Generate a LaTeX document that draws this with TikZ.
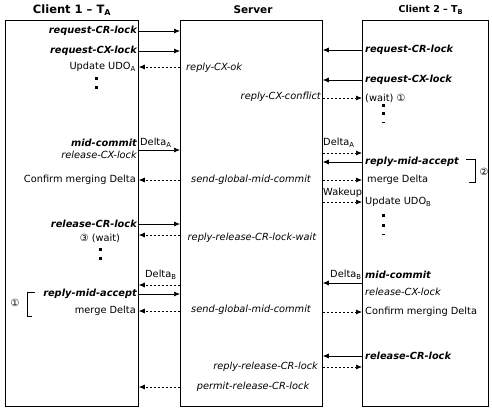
\documentclass[tikz,border=0pt]{standalone}
\usepackage{fontspec}
\setmainfont{DejaVu Sans}
\usetikzlibrary{arrows.meta}
\begin{document}
\begin{tikzpicture}[x=1pt,y=-1pt,
  box/.style={draw,line width=0.8pt,inner sep=0pt,anchor=north west},
  sarr/.style={-{Latex[length=6pt,width=5pt]},line width=0.7pt},
  darr/.style={sarr,dash pattern=on 2.5pt off 1.5pt},
  txt/.style={inner sep=0pt,font=\fontsize{9.8}{11}\selectfont},
  bi/.style={txt,font=\fontsize{9.8}{11}\selectfont\bfseries\itshape},
  it/.style={txt,font=\fontsize{9.8}{11}\selectfont\itshape},
  L/.style={anchor=east},
  R/.style={anchor=west},
  ttl/.style={inner sep=0pt,font=\fontsize{11.5}{13}\selectfont\bfseries},
  dotsq/.style={fill,inner sep=0pt,minimum width=3pt,minimum height=3pt},
  dotdash/.style={fill,inner sep=0pt,minimum width=3pt,minimum height=0.8pt},
  brk/.style={line width=0.7pt}]
\useasboundingbox (0,0) rectangle (492,408);
% boxes
\node[box,minimum width=133pt,minimum height=386pt] (c1) at (5,20) {};
\node[box,minimum width=142pt,minimum height=386pt] (sv) at (180,20) {};
\node[box,minimum width=126pt,minimum height=386pt] (c2) at (362,20) {};
% titles
\node[ttl] (t1) at (72,10) {Client 1 -- T\textsubscript{A}};
\node[ttl,font=\fontsize{10.5}{12}\selectfont\bfseries] (t2) at (253,10) {Server};
\node[ttl,font=\fontsize{9.5}{11}\selectfont\bfseries] (t3) at (431,10) {Client 2 -- T\textsubscript{B}};
% client 1 texts
\node[bi,L] (a1) at (137,31) {request-CR-lock};
\node[bi,L] (a2) at (137,51) {request-CX-lock};
\node[txt,L] (a3) at (136,67) {Update UDO\textsubscript{A}};
\node[bi,L] (a4) at (137,143) {mid-commit};
\node[it,L] (a5) at (137,155) {release-CX-lock};
\node[txt,L] (a6) at (136,180) {Confirm merging Delta};
\node[bi,L] (a7) at (137,224) {release-CR-lock};
\node[txt] (a8) at (100,238) {③ (wait)};
\node[bi,L] (a9) at (137,294) {reply-mid-accept};
\node[txt,L] (a10) at (136,311) {merge Delta};
\node[txt] (n1) at (15,303) {①};
\draw[brk] (35,292) -- (27,292) -- (27,316) -- (32,316);
\node[dotsq] (d1) at (96,78) {};
\node[dotsq] (d2) at (96,87) {};
\node[dotsq] (d3) at (100,249) {};
\node[dotsq] (d4) at (100,258) {};
% client 2 texts
\node[bi,R] (b1) at (365,50) {request-CR-lock};
\node[bi,R] (b2) at (365,80) {request-CX-lock};
\node[txt,R] (b3) at (365,98) {(wait) ①};
\node[bi,R] (b4) at (365,162) {reply-mid-accept};
\node[txt,R] (b5) at (367,180) {merge Delta};
\node[txt,R] (b6) at (365,202) {Update UDO\textsubscript{B}};
\node[bi,R] (b7) at (365,275) {mid-commit};
\node[it,R] (b8) at (365,292) {release-CX-lock};
\node[txt,R] (b9) at (365,312) {Confirm merging Delta};
\node[bi,R] (b10) at (365,356) {release-CR-lock};
\draw[brk] (466,159) -- (475,159) -- (475,182) -- (469,182);
\node[txt] (n2) at (484,172) {②};
\node[dotsq] (e1) at (383,105) {};
\node[dotsq] (e2) at (383,113) {};
\node[dotdash] (e3) at (383,122) {};
\node[dotsq] (e4) at (383,215) {};
\node[dotsq] (e5) at (383,225) {};
\node[dotdash] (e6) at (383,234) {};
% server texts
\node[it,R] (s1) at (186,68) {reply-CX-ok};
\node[it,L] (s2) at (321,97) {reply-CX-conflict};
\node[it] (s3) at (251,180) {send-global-mid-commit};
\node[it] (s4) at (252,238) {reply-release-CR-lock-wait};
\node[it] (s5) at (251,310) {send-global-mid-commit};
\node[it,L] (s6) at (318,367) {reply-release-CR-lock};
\node[it] (s7) at (253,387) {permit-release-CR-lock};
% arrow labels
\node[txt,R] (l1) at (140,143) {Delta\textsubscript{A}};
\node[txt,R] (l2) at (323,143) {Delta\textsubscript{A}};
\node[txt,R] (l3) at (323,193) {Wakeup};
\node[txt,R] (l4) at (145,275) {Delta\textsubscript{B}};
\node[txt,R] (l5) at (330,275) {Delta\textsubscript{B}};
% client 1 -> server
\draw[sarr] (c1.east |- 0,31) -- (sv.west |- 0,31);
\draw[sarr] (c1.east |- 0,51) -- (sv.west |- 0,51);
\draw[sarr] (c1.east |- 0,150) -- (sv.west |- 0,150);
\draw[sarr] (c1.east |- 0,224) -- (sv.west |- 0,224);
\draw[sarr] (c1.east |- 0,294) -- (sv.west |- 0,294);
% server -> client 1
\draw[darr] (sv.west |- 0,67) -- (c1.east |- 0,67);
\draw[darr] (sv.west |- 0,180) -- (c1.east |- 0,180);
\draw[darr] (sv.west |- 0,235) -- (c1.east |- 0,235);
\draw[darr] (sv.west |- 0,285) -- (c1.east |- 0,285);
\draw[darr] (sv.west |- 0,311) -- (c1.east |- 0,311);
\draw[darr] (sv.west |- 0,387) -- (c1.east |- 0,387);
% client 2 -> server
\draw[sarr] (c2.west |- 0,50) -- (sv.east |- 0,50);
\draw[sarr] (c2.west |- 0,80) -- (sv.east |- 0,80);
\draw[sarr] (c2.west |- 0,162) -- (sv.east |- 0,162);
\draw[sarr] (c2.west |- 0,283) -- (sv.east |- 0,283);
\draw[sarr] (c2.west |- 0,356) -- (sv.east |- 0,356);
% server -> client 2
\draw[darr] (sv.east |- 0,98) -- (c2.west |- 0,98);
\draw[darr] (sv.east |- 0,153) -- (c2.west |- 0,153);
\draw[darr] (sv.east |- 0,180) -- (c2.west |- 0,180);
\draw[darr] (sv.east |- 0,202) -- (c2.west |- 0,202);
\draw[darr] (sv.east |- 0,312) -- (c2.west |- 0,312);
\draw[darr] (sv.east |- 0,367) -- (c2.west |- 0,367);
\end{tikzpicture}
\end{document}
